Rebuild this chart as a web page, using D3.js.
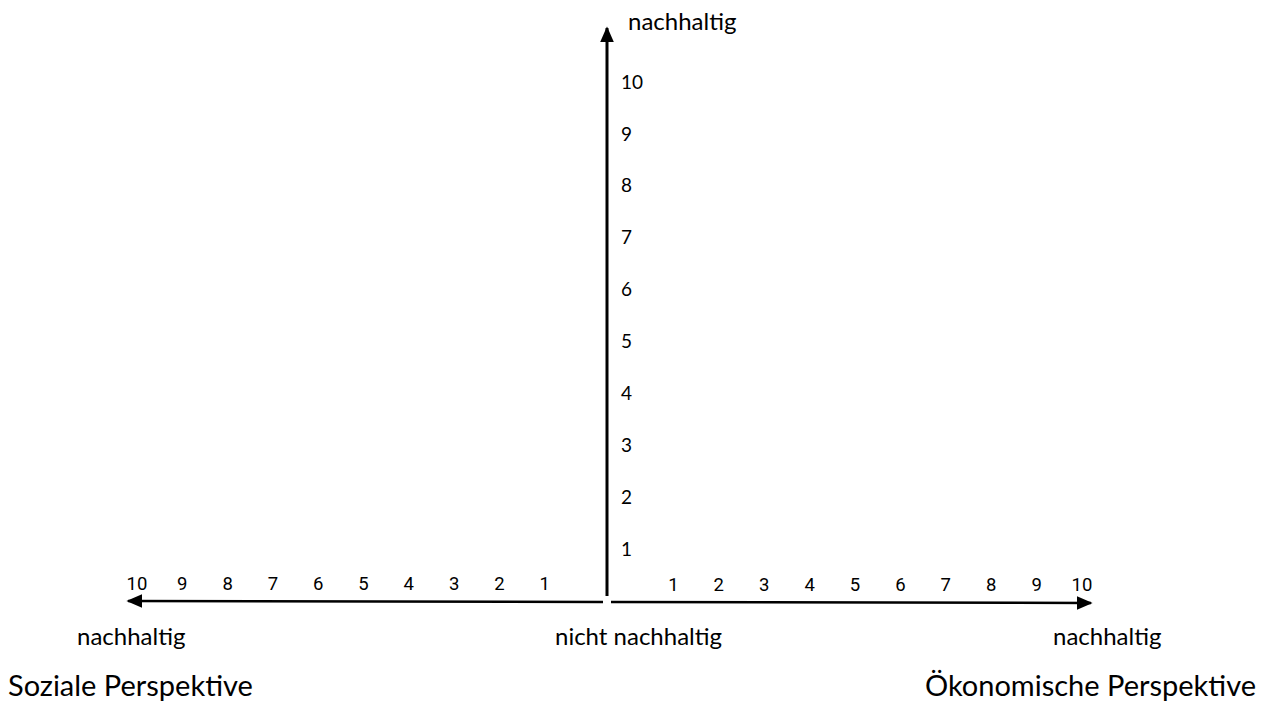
<!DOCTYPE html>
<html>
<head>
<meta charset="utf-8">
<script src="https://cdn.jsdelivr.net/npm/d3@7"></script>
<style>
  body { margin: 0; background: #fff; }
  text { fill: #000; }
</style>
</head>
<body>
<svg id="chart"></svg>
<script>
var width = 1277,
    height = 702;

// scale values on each axis
var vertTicks = [1, 2, 3, 4, 5, 6, 7, 8, 9, 10];
var leftTicks = [1, 2, 3, 4, 5, 6, 7, 8, 9, 10];
var rightTicks = [1, 2, 3, 4, 5, 6, 7, 8, 9, 10];

var topLabel = "nachhaltig";
var bottomLabels = ["nachhaltig", "nicht nachhaltig", "nachhaltig"];
var perspectives = ["Soziale Perspektive", "Ökonomische Perspektive"];

var svg = d3.select("#chart")
    .attr("width", width)
    .attr("height", height);

var defs = svg.append("defs");
defs.append("marker")
    .attr("id", "arrow")
    .attr("viewBox", "0 0 10 10")
    .attr("refX", 9)
    .attr("refY", 5)
    .attr("markerWidth", 16)
    .attr("markerHeight", 14)
    .attr("markerUnits", "userSpaceOnUse")
    .attr("orient", "auto")
    .attr("preserveAspectRatio", "none")
  .append("path")
    .attr("d", "M0,0L10,5L0,10Z")
    .attr("fill", "#000");

// scales
var y = d3.scaleLinear().domain([0, 10]).range([601, 82]);
var xRight = d3.scaleLinear().domain([0, 10]).range([628, 1082]);
var xLeft = d3.scaleLinear().domain([0, 10]).range([590, 137]);

var axisY = 602;

// vertical axis
svg.append("line")
    .attr("x1", 607).attr("y1", 596)
    .attr("x2", 607).attr("y2", 28)
    .attr("stroke", "#000")
    .attr("stroke-width", 3)
    .attr("marker-end", "url(#arrow)");

// left axis
svg.append("line")
    .attr("x1", 603).attr("y1", axisY)
    .attr("x2", 128).attr("y2", axisY - 1)
    .attr("stroke", "#000")
    .attr("stroke-width", 2.5)
    .attr("marker-end", "url(#arrow)");

// right axis
svg.append("line")
    .attr("x1", 611).attr("y1", axisY)
    .attr("x2", 1091).attr("y2", axisY + 1)
    .attr("stroke", "#000")
    .attr("stroke-width", 2.5)
    .attr("marker-end", "url(#arrow)");

svg.append("g").selectAll("text")
    .data(vertTicks)
    .enter().append("text")
        .attr("x", 621)
        .attr("y", function(d) { return y(d); })
        .attr("dy", "0.35em")
        .style("font-family", "Lato, 'Open Sans', sans-serif")
        .style("font-size", "19px")
        .text(function(d) { return d; });

svg.append("g").selectAll("text")
    .data(leftTicks)
    .enter().append("text")
        .attr("x", function(d) { return xLeft(d); })
        .attr("y", 584)
        .attr("dy", "0.35em")
        .attr("text-anchor", "middle")
        .style("font-family", "Roboto, sans-serif")
        .style("font-size", "18.5px")
        .text(function(d) { return d; });

svg.append("g").selectAll("text")
    .data(rightTicks)
    .enter().append("text")
        .attr("x", function(d) { return xRight(d); })
        .attr("y", 585)
        .attr("dy", "0.35em")
        .attr("text-anchor", "middle")
        .style("font-family", "Roboto, sans-serif")
        .style("font-size", "18.5px")
        .text(function(d) { return d; });

var labelFont = "Lato, 'Open Sans', sans-serif";

svg.append("text")
    .attr("x", 628).attr("y", 22).attr("dy", "0.35em")
    .style("font-family", labelFont)
    .style("font-size", "24px")
    .text(topLabel);

svg.append("g").selectAll("text")
    .data(bottomLabels)
    .enter().append("text")
        .attr("x", function(d, i) { return [77, 555, 1053][i]; })
        .attr("y", 637)
        .attr("dy", "0.35em")
        .style("font-family", labelFont)
        .style("font-size", "24px")
        .text(function(d) { return d; });

svg.append("g").selectAll("text")
    .data(perspectives)
    .enter().append("text")
        .attr("x", function(d, i) { return i == 0 ? 8 : 1256; })
        .attr("y", 686)
        .attr("dy", "0.35em")
        .attr("text-anchor", function(d, i) { return i == 0 ? "start" : "end"; })
        .style("font-family", labelFont)
        .style("font-size", "29px")
        .text(function(d) { return d; });
</script>
</body>
</html>
